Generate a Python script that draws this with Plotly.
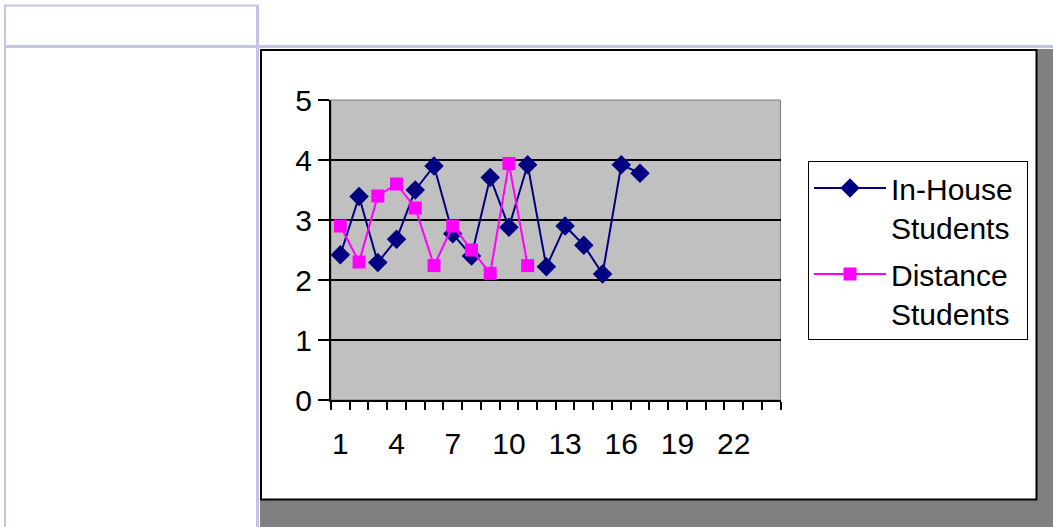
import plotly.graph_objects as go

W, H = 1053, 527

# ---- data ----
categories = list(range(1, 25))
tick_labels = ["1", "4", "7", "10", "13", "16", "19", "22"]
tick_positions = [1, 4, 7, 10, 13, 16, 19, 22]
inhouse_x = list(range(1, 18))
inhouse = [2.42, 3.39, 2.29, 2.68, 3.5, 3.9, 2.77, 2.4, 3.71, 2.88, 3.92,
           2.22, 2.9, 2.58, 2.1, 3.92, 3.78]
distance_x = list(range(1, 12))
distance = [2.9, 2.3, 3.4, 3.6, 3.2, 2.24, 2.9, 2.5, 2.11, 3.94, 2.24]
y_ticks = [0, 1, 2, 3, 4, 5]
series_names = ["In-House&nbsp;<br>Students", "Distance<br>Students"]


def px(x):
    return x / W


def py(y):
    return 1 - y / H


FONT = "Liberation Sans, Arial, sans-serif"
LAV = "#c3c3e3"

fig = go.Figure()
fig.add_trace(go.Scatter(
    x=inhouse_x, y=inhouse, mode="lines+markers",
    name=series_names[0], legendgroup="a",
    line=dict(color="#000080", width=2),
    marker=dict(symbol="diamond", size=15, color="#000080"),
))
fig.add_trace(go.Scatter(
    x=distance_x, y=distance, mode="lines+markers",
    name=series_names[1], legendgroup="b",
    line=dict(color="#ff00ff", width=2),
    marker=dict(symbol="square", size=13, color="#ff00ff"),
))

shapes = []
# shadow
shapes.append(dict(type="rect", xref="paper", yref="paper", layer="below",
                   x0=px(260), x1=px(1053), y0=py(527), y1=py(49),
                   fillcolor="#808080", line=dict(width=0)))
# white chart box
shapes.append(dict(type="rect", xref="paper", yref="paper", layer="below",
                   x0=px(261), x1=px(1036.5), y0=py(499.5), y1=py(50),
                   fillcolor="white", line=dict(color="black", width=2)))
# plot area
shapes.append(dict(type="rect", xref="paper", yref="paper", layer="below",
                   x0=px(331), x1=px(780.5), y0=py(400), y1=py(100),
                   fillcolor="#c0c0c0", line=dict(color="#808080", width=1)))
# lavender table lines
for (x0, y0, x1, y1, w) in [
    (4, 5.5, 258, 5.5, 2),
    (5, 5, 5, 527, 2),
    (257.5, 5, 257.5, 527, 3),
    (4, 46.5, 1053, 46.5, 3),
]:
    shapes.append(dict(type="line", xref="paper", yref="paper", layer="below",
                       x0=px(x0), x1=px(x1), y0=py(y0), y1=py(y1),
                       line=dict(color=LAV, width=w)))

fig.update_layout(
    width=W, height=H,
    margin=dict(l=0, r=0, t=0, b=0, pad=0, autoexpand=False),
    paper_bgcolor="white",
    plot_bgcolor="rgba(0,0,0,0)",
    font=dict(family=FONT, size=30, color="black"),
    shapes=shapes,
    showlegend=True,
    legend=dict(
        x=px(808), y=py(161), xanchor="left", yanchor="top",
        bgcolor="white", bordercolor="black", borderwidth=1,
        font=dict(family=FONT, size=30, color="black"),
        itemwidth=72, valign="top", tracegroupgap=5,
        traceorder="grouped",
    ),
    xaxis=dict(
        domain=[px(331), px(780.5)], range=[0.5, 24.5], automargin=False,
        showline=True, linecolor="black", linewidth=2,
        tickmode="array", tickvals=tick_positions, ticktext=tick_labels,
        ticks="outside", ticklen=8, tickcolor="rgba(0,0,0,0)",
        ticklabelstandoff=8,
        showgrid=False, zeroline=False,
        minor=dict(tickmode="array", tickvals=[c - 0.5 for c in categories] + [24.5],
                   ticks="outside", ticklen=8, tickcolor="black", tickwidth=1.5,
                   showgrid=False),
    ),
    yaxis=dict(
        domain=[py(400), py(100)], range=[0, 5], automargin=False,
        showline=True, linecolor="black", linewidth=2,
        tickmode="array", tickvals=y_ticks,
        ticks="outside", ticklen=11, tickcolor="black", tickwidth=1.5,
        showgrid=False, zeroline=False,
        minor=dict(tickmode="array", tickvals=[1, 2, 3, 4], ticks="",
                   showgrid=True, gridcolor="black", gridwidth=2),
    ),
)

fig.write_html("out.html", config={"displayModeBar": False},
               post_script="document.body.style.margin='0px';document.body.style.overflow='hidden';")
